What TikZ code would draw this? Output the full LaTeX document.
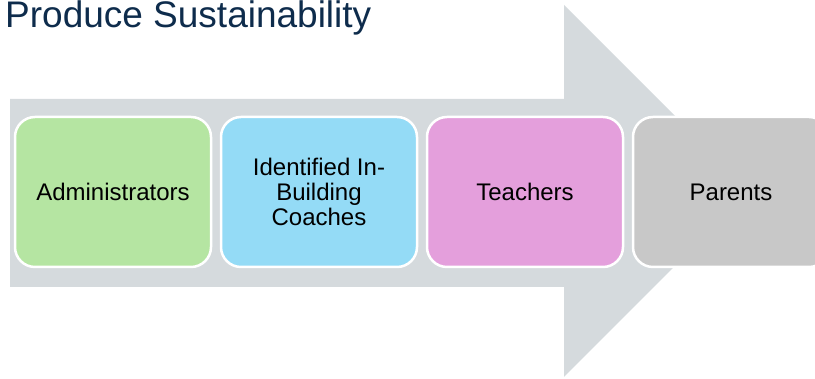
\documentclass[tikz,border=0pt]{standalone}
\usepackage{fontspec}
\setmainfont{Liberation Sans}
\usetikzlibrary{positioning}
\definecolor{arrowgrey}{RGB}{213,218,221}
\definecolor{adminfill}{RGB}{181,229,162}
\definecolor{coachfill}{RGB}{148,219,246}
\definecolor{teachfill}{RGB}{228,159,220}
\definecolor{parentfill}{RGB}{200,200,200}
\definecolor{titleblue}{RGB}{14,44,76}
\tikzset{
  stage/.style={draw=white, line width=2.5pt, rounded corners=20pt,
    minimum width=196pt, minimum height=150pt, align=center, inner sep=0pt,
    font=\fontsize{24}{25}\selectfont}
}
\begin{document}
\begin{tikzpicture}[x=1pt,y=1pt]
        \useasboundingbox (0,0) rectangle (815,379);
        \clip (0,0) rectangle (815,379);

        % Big arrow behind the stages
        \fill[arrowgrey] (10,92) -- (10,280) -- (564,280) -- (564,374)
            -- (750,188) -- (564,2) -- (564,92) -- cycle;

        % Title
        \node[anchor=base west, inner sep=0pt, text=titleblue,
            font=\fontsize{37}{40}\selectfont] (title) at (5,351) {Produce Sustainability};

        % Stages
        \node[stage, fill=adminfill] (admin) at (113,187) {Administrators};
        \node[stage, fill=coachfill, right=7.5pt of admin] (coach) {Identified In-\\Building\\Coaches};
        \node[stage, fill=teachfill, right=7.5pt of coach] (teach) {Teachers};
        \node[stage, fill=parentfill, right=7.5pt of teach] (parent) {Parents};
    \end{tikzpicture}
\end{document}
